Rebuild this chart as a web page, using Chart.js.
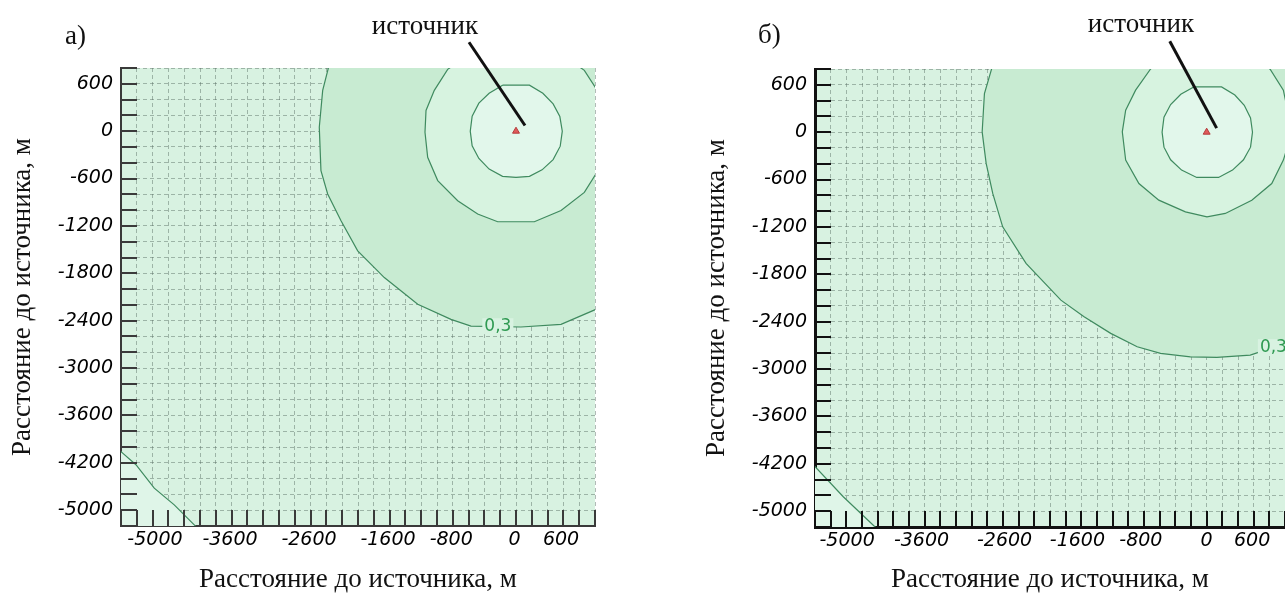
<!DOCTYPE html>
<html lang="ru">
<head>
<meta charset="utf-8">
<title>Расстояние до источника</title>
<script src="https://cdn.jsdelivr.net/npm/chart.js@4"></script>
<style>
    html, body { margin: 0; padding: 0; background: #fff; }
    body { width: 1285px; height: 593px; overflow: hidden; position: relative; }
    canvas { position: absolute; top: 0; }
    #chartA { left: 0; }
    #chartB { left: 690px; }
    .note {
        position: absolute;
        font-family: "Liberation Serif", "Times New Roman", serif;
        font-size: 27px;
        line-height: 27px;
        color: #111;
        white-space: nowrap;
    }
</style>
</head>
<body>
<canvas id="chartA" width="640" height="593"></canvas>
<canvas id="chartB" width="600" height="593"></canvas>
<div class="note" style="left:65px; top:22px">а)</div>
<div class="note" style="left:758px; top:21px">б)</div>
<div class="note" style="left:325px; top:12px; width:200px; text-align:center">источник</div>
<div class="note" style="left:1041px; top:10px; width:200px; text-align:center">источник</div>
<script>
// =============================================
//
// Концентрация от источника: два поля а) и б)
// contours, metres from the source
//
// =============================================

const axisTitle = "Расстояние до источника, м";
const contourLevel = "0,3";

// tick labels (the y label at -4800 reads "-5000" in the original)
const yTickValues = [600, 0, -600, -1200, -1800, -2400, -3000, -3600, -4200, -4800];
const yTickLabels = ["600", "0", "-600", "-1200", "-1800", "-2400", "-3000", "-3600", "-4200", "-5000"];
const xTickLabels = ["-5000", "-3600", "-2600", "-1600", "-800", "0", "600"];
const xTickValuesA = [-4570, -3620, -2620, -1620, -820, -20, 570];
const xTickValuesB = [-4590, -3640, -2580, -1650, -840, 0, 580];

// source point and the pointer line to it
const source = [[0, 0]];
const pointerA = [[-595, 1126], [114, 72]];
const pointerB = [[-471, 1152], [127, 51]];

// panel а) contours
const innerA = [
    [-170, 582], [170, 582], [340, 480], [470, 345], [555, 185], [586, 0],
    [560, -190], [470, -360], [330, -490], [170, -572], [0, -584], [-170, -572],
    [-340, -480], [-470, -345], [-555, -185], [-579, 0], [-555, 190], [-470, 355],
    [-340, 480], [-170, 582],
];
const middleA = [
    [-400, 1100], [-865, 783], [-1034, 517], [-1139, 262], [-1152, -13], [-1118, -330],
    [-991, -626], [-738, -880], [-485, -1049], [-232, -1147], [232, -1147], [570, -1005],
    [865, -775], [1013, -540], [1150, -150], [1150, 200], [1013, 540], [865, 770],
    [400, 1100], [-400, 1100],
];
const outerA = [
    [-2370, 820], [-2447, 517], [-2490, 51], [-2469, -499], [-2384, -795], [-2215, -1134],
    [-2004, -1515], [-1667, -1854], [-1244, -2192], [-823, -2383], [-570, -2468], [63, -2480],
    [570, -2446], [1013, -2256], [1500, -2000], [1500, 1500], [-2370, 1500], [-2370, 820],
];
const cornerA = [
    [-5100, -3970], [-4979, -4077], [-4811, -4224], [-4579, -4521], [-4326, -4732],
    [-4073, -4986], [-3959, -5100], [-5500, -5500], [-5100, -3970],
];
const labelA = [-230, -2470];

// panel б) contours
const innerB = [
    [-165, 573], [190, 573], [360, 470], [480, 340], [560, 180], [585, 0],
    [560, -190], [470, -350], [330, -480], [152, -573], [-127, -573], [-320, -480],
    [-460, -350], [-545, -190], [-569, 0], [-545, 190], [-460, 350], [-330, 480],
    [-165, 573],
];
const middleB = [
    [-400, 1050], [-716, 800], [-907, 532], [-1034, 279], [-1077, 4], [-1034, -354],
    [-865, -650], [-611, -861], [-271, -1009], [4, -1072], [238, -1029], [576, -861],
    [831, -650], [979, -354], [1090, 0], [979, 532], [810, 798], [400, 1050], [-400, 1050],
];
const outerB = [
    [-2740, 820], [-2837, 490], [-2866, 4], [-2815, -396], [-2731, -776], [-2604, -1199],
    [-2306, -1662], [-1861, -2127], [-1565, -2338], [-1225, -2548], [-887, -2718],
    [-589, -2802], [-207, -2845], [131, -2852], [556, -2823], [852, -2725], [1100, -2560],
    [1500, -2300], [1500, 1500], [-2740, 1500], [-2740, 820],
];
const cornerB = [
    [-5100, -4130], [-4999, -4237], [-4639, -4617], [-4236, -4997], [-4126, -5100],
    [-5500, -5500], [-5100, -4130],
];
const labelB = [852, -2722];

// colours
const BG = "#d8f2e1";
const ZONE_OUTER = "#c8ebd2";
const ZONE_MIDDLE = "#d7f3e0";
const ZONE_INNER = "#e2f7eb";
const ZONE_CORNER = "#dff5e8";
const CONTOUR = "#3f8a5f";
const GRID = "rgba(85, 105, 95, 0.45)";

const tickFont = { family: "DejaVu Sans", size: 19, style: "italic" };
const titleFont = { family: "Liberation Serif", size: 27, lineHeight: 1 };

const toXY = (pts) => pts.map(([x, y]) => ({ x, y }));

function zone(points, color, order) {
    return {
        type: "line",
        data: toXY(points),
        fill: "shape",
        backgroundColor: color,
        borderColor: CONTOUR,
        borderWidth: 1.2,
        pointRadius: 0,
        tension: 0,
        order: order,
    };
}

// plot background
const plotBackground = {
    id: "plotBackground",
    beforeDraw(chart, args, opts) {
        const { ctx, chartArea: a } = chart;
        ctx.save();
        ctx.fillStyle = opts.color;
        ctx.fillRect(a.left, a.top, a.width, a.height);
        ctx.restore();
    },
};

// tick marks drawn inward from the axes
const innerTicks = {
    id: "innerTicks",
    afterDatasetsDraw(chart, args, opts) {
        const { ctx, chartArea: a, scales } = chart;
        ctx.save();
        ctx.strokeStyle = opts.color;
        ctx.lineWidth = opts.width;
        ctx.beginPath();
        scales.y.ticks.forEach((t) => {
            const py = Math.round(scales.y.getPixelForValue(t.value));
            ctx.moveTo(a.left, py);
            ctx.lineTo(a.left + opts.length, py);
        });
        scales.x.ticks.forEach((t) => {
            const px = Math.round(scales.x.getPixelForValue(t.value));
            ctx.moveTo(px, a.bottom);
            ctx.lineTo(px, a.bottom - opts.length);
        });
        ctx.stroke();
        ctx.restore();
    },
};

// "0,3" on the outer contour
const contourLabel = {
    id: "contourLabel",
    afterDatasetsDraw(chart, args, opts) {
        const { ctx, chartArea: a, scales } = chart;
        const px = scales.x.getPixelForValue(opts.at[0]);
        const py = scales.y.getPixelForValue(opts.at[1]);
        ctx.save();
        ctx.beginPath();
        ctx.rect(a.left, a.top, a.width, a.height);
        ctx.clip();
        ctx.font = "17px 'DejaVu Sans'";
        const w = ctx.measureText(opts.text).width;
        ctx.fillStyle = opts.background;
        ctx.fillRect(px - w / 2 - 2, py - 8, w + 4, 16);
        ctx.fillStyle = opts.color;
        ctx.textAlign = "center";
        ctx.textBaseline = "middle";
        ctx.fillText(opts.text, px, py);
        ctx.restore();
    },
};

function makePanel(canvasId, p) {
    const config = {
        type: "scatter",
        data: {
            datasets: [
                zone(p.outer, ZONE_OUTER, 6),
                zone(p.corner, ZONE_CORNER, 5),
                zone(p.middle, ZONE_MIDDLE, 4),
                zone(p.inner, ZONE_INNER, 3),
                {
                    data: toXY(source),
                    pointStyle: "triangle",
                    pointRadius: 4,
                    backgroundColor: "#e05a5a",
                    borderColor: "#b43c3c",
                    borderWidth: 1,
                    order: 1,
                },
                {
                    type: "line",
                    data: toXY(p.pointer),
                    borderColor: "#111",
                    borderWidth: 3,
                    pointRadius: 0,
                    fill: false,
                    clip: false,
                    order: 0,
                },
            ],
        },
        options: {
            responsive: false,
            animation: false,
            layout: { padding: p.padding },
            plugins: {
                legend: { display: false },
                tooltip: { enabled: false },
                plotBackground: { color: BG },
                innerTicks: { color: p.axisColor, width: 2, length: 16 },
                contourLabel: { at: p.label, text: contourLevel, color: "#2f9a52", background: BG },
            },
            scales: {
                // grid axis: a line every 200 m
                x: {
                    type: "linear",
                    position: "bottom",
                    min: -5000,
                    max: 1000,
                    z: 1,
                    weight: 0,
                    ticks: { display: false, stepSize: 200, maxTicksLimit: 100, autoSkip: false },
                    grid: { color: GRID, lineWidth: 1, drawTicks: false },
                    border: { color: p.axisColor, width: p.axisWidth, dash: [4, 3] },
                    afterFit: (s) => { s.height = 0; },
                },
                // label axis under it
                xl: {
                    type: "linear",
                    position: "bottom",
                    min: -5000,
                    max: 1000,
                    weight: 1,
                    afterBuildTicks: (s) => { s.ticks = p.xTicks.map((v) => ({ value: v })); },
                    ticks: {
                        callback: (v, i) => xTickLabels[i],
                        font: tickFont,
                        color: "#000",
                        padding: 3,
                        autoSkip: false,
                        maxRotation: 0,
                    },
                    grid: { display: false, drawTicks: false },
                    border: { display: false },
                    title: { display: true, text: axisTitle, font: titleFont, color: "#111", padding: 0 },
                    afterFit: (s) => { s.height = p.xAxisHeight; },
                },
                y: {
                    type: "linear",
                    min: -5000,
                    max: 800,
                    z: 1,
                    ticks: {
                        stepSize: 200,
                        maxTicksLimit: 100,
                        autoSkip: false,
                        font: tickFont,
                        color: "#000",
                        padding: 8,
                        callback: (v) => {
                            const i = yTickValues.indexOf(v);
                            return i < 0 ? "" : yTickLabels[i];
                        },
                    },
                    grid: { color: GRID, lineWidth: 1, drawTicks: false },
                    border: { color: p.axisColor, width: p.axisWidth, dash: [4, 3] },
                    title: {
                        display: true,
                        text: axisTitle,
                        font: titleFont,
                        color: "#111",
                        padding: { top: p.yTitlePad, bottom: 0 },
                    },
                    afterFit: (s) => { s.width = p.yAxisWidth; },
                },
            },
        },
        plugins: [plotBackground, innerTicks, contourLabel],
    };
    return new Chart(document.getElementById(canvasId), config);
}

makePanel("chartA", {
    inner: innerA, middle: middleA, outer: outerA, corner: cornerA,
    pointer: pointerA, label: labelA, xTicks: xTickValuesA,
    padding: { top: 68, right: 45, bottom: 0, left: 0 },
    yAxisWidth: 121, xAxisHeight: 67, yTitlePad: 9.5,
    axisColor: "#3a3a3a", axisWidth: 2,
});

makePanel("chartB", {
    inner: innerB, middle: middleB, outer: outerB, corner: cornerB,
    pointer: pointerB, label: labelB, xTicks: xTickValuesB,
    padding: { top: 69, right: 3, bottom: 0, left: 0 },
    yAxisWidth: 125, xAxisHeight: 66, yTitlePad: 13.5,
    axisColor: "#111", axisWidth: 3,
});
</script>
</body>
</html>
